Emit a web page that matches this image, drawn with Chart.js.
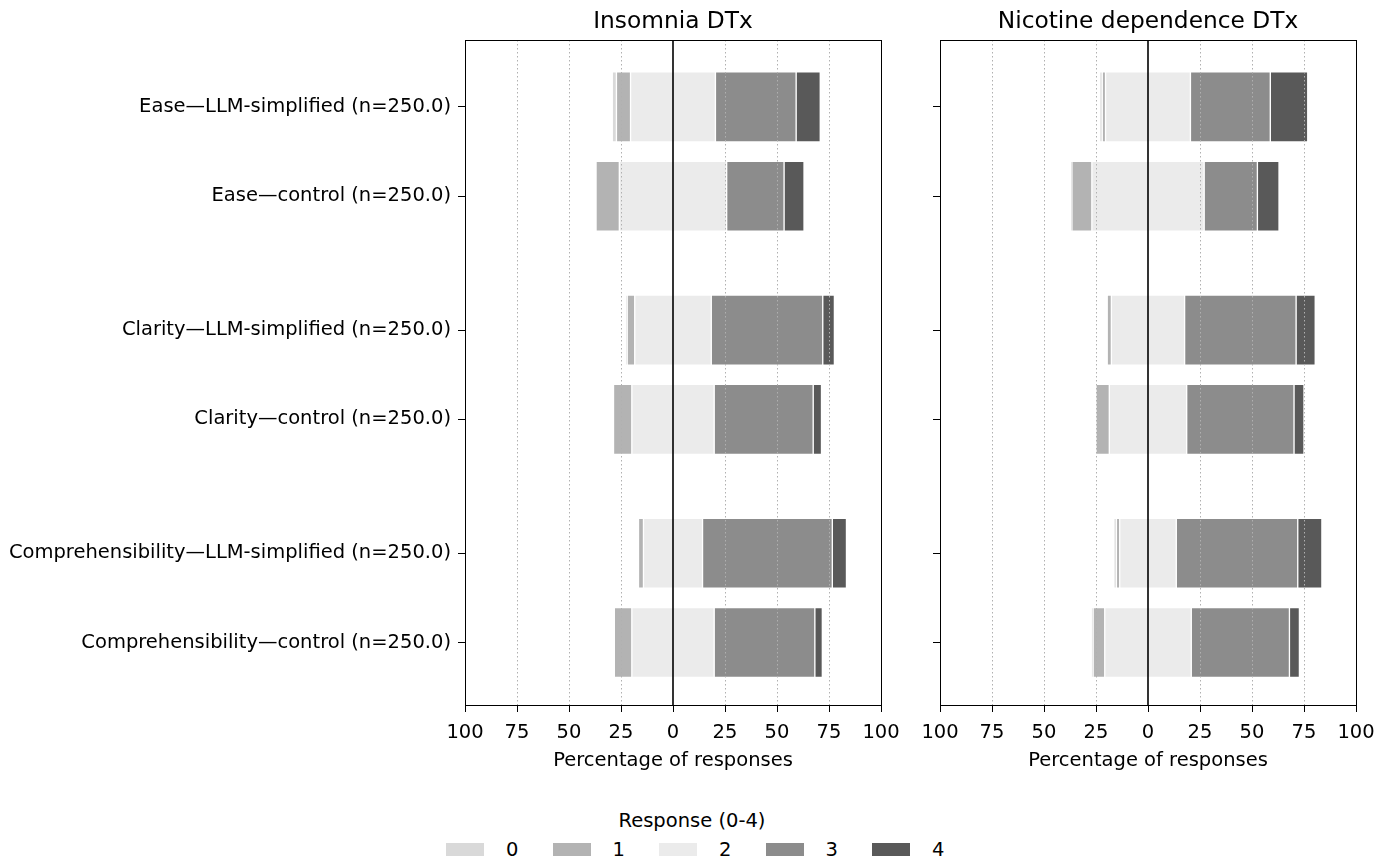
<!DOCTYPE html>
<html>
<head>
<meta charset="utf-8">
<script src="https://cdn.jsdelivr.net/npm/chart.js@4.4.1/dist/chart.umd.min.js"></script>
<style>
  body { margin: 0; background: #fff; font-family: "DejaVu Sans", sans-serif; }
  #wrap { position: relative; width: 1394px; height: 861px; }
  canvas { position: absolute; top: 0; }
  #left { left: 0; }
  #right { left: 900px; }
  #legendTitle { position: absolute; left: 592px; width: 200px; top: 809px; text-align: center; font-size: 19.5px; color: #000; }
  #legend { position: absolute; left: 446px; top: 838px; display: flex; font-size: 19.5px; color: #000; }
  .item { display: flex; align-items: center; width: 106.5px; }
  .box { width: 38px; height: 13px; margin-right: 22px; }
</style>
</head>
<body>
<div id="wrap">
  <canvas id="left" width="920" height="775"></canvas>
  <canvas id="right" width="494" height="775"></canvas>
  <div id="legendTitle">Response (0-4)</div>
  <div id="legend"></div>
</div>
<script>
// rows, top to bottom
const groups = [
  'Ease—LLM-simplified (n=250.0)',
  'Ease—control (n=250.0)',
  'Clarity—LLM-simplified (n=250.0)',
  'Clarity—control (n=250.0)',
  'Comprehensibility—LLM-simplified (n=250.0)',
  'Comprehensibility—control (n=250.0)'
];
const responses = ['0', '1', '2', '3', '4'];
const xTicks = [-100, -75, -50, -25, 0, 25, 50, 75, 100];

// percentage of responses per score, Insomnia DTx
const ins0 = [2.0, 0, 0.4, 0, 0, 0];
const ins1 = [6.8, 11.2, 3.6, 8.8, 2.4, 8.4];
const ins2 = [40.8, 51.6, 36.8, 39.6, 28.4, 39.6];
const ins3 = [38.8, 27.6, 53.6, 47.6, 62.4, 48.4];
const ins4 = [11.6, 9.6, 5.6, 4.0, 6.8, 3.6];

// Nicotine dependence DTx
const nic0 = [1.2, 0.4, 0, 0, 1.2, 0.8];
const nic1 = [1.6, 9.6, 2.0, 6.4, 1.6, 5.6];
const nic2 = [40.8, 54.0, 35.2, 37.2, 27.2, 41.6];
const nic3 = [38.4, 25.6, 53.6, 51.6, 58.4, 47.2];
const nic4 = [18.0, 10.4, 9.2, 4.8, 11.6, 4.8];

const colors = ['#d9d9d9', '#b3b3b3', '#ebebeb', '#8c8c8c', '#595959'];
const rowPos = [0, 1, 2.5, 3.5, 5, 6];  // gap between question pairs

const FONT = 'DejaVu Sans';
const FS = 19.5;

// legend
const leg = document.getElementById('legend');
responses.forEach((r, i) => {
  const it = document.createElement('div');
  it.className = 'item';
  it.innerHTML = '<div class="box" style="background:' + colors[i] + '"></div><span>' + r + '</span>';
  leg.appendChild(it);
});

// diverging layout: 0,1 left of the neutral half, 3,4 right of it
function buildDatasets(series) {
  const [s0, s1, s2, s3, s4] = series;
  const segs = [[], [], [], [], []];
  groups.forEach((g, i) => {
    const half = s2[i] / 2;
    const left = -(s0[i] + s1[i] + half);
    const edges = [left, left + s0[i], -half, half, half + s3[i], half + s3[i] + s4[i]];
    for (let k = 0; k < 5; k++) {
      const a = edges[k], b = edges[k + 1];
      segs[k].push({ x: b - a > 0 ? [a, b] : null, y: rowPos[i] });
    }
  });
  return segs.map((d, k) => ({
    label: responses[k],
    data: d,
    backgroundColor: colors[k],
    borderColor: '#ffffff',
    borderWidth: 1,
    borderSkipped: false,
    barThickness: 70,
    grouped: false
  }));
}

const decor = {
  id: 'decor',
  afterDatasetsDraw(chart, args, opts) {
    const { ctx, chartArea: a, scales: { x } } = chart;
    ctx.save();
    // dotted grid over bars
    ctx.strokeStyle = '#b0b0b0';
    ctx.lineWidth = 1;
    ctx.setLineDash([1.5, 2.5]);
    xTicks.forEach(v => {
      if (v === 0 || Math.abs(v) === 100) return;
      const px = Math.round(x.getPixelForValue(v)) + 0.5;
      ctx.beginPath(); ctx.moveTo(px, a.top); ctx.lineTo(px, a.bottom); ctx.stroke();
    });
    ctx.setLineDash([]);
    // zero line
    ctx.strokeStyle = '#000';
    ctx.lineWidth = 1.6;
    const zx = x.getPixelForValue(0);
    ctx.beginPath(); ctx.moveTo(zx, a.top); ctx.lineTo(zx, a.bottom); ctx.stroke();
    // frame
    ctx.lineWidth = 1;
    ctx.strokeRect(Math.round(a.left) + 0.5, Math.round(a.top) + 0.5, Math.round(a.right - a.left), Math.round(a.bottom - a.top));
    // panel title
    ctx.fillStyle = '#000';
    ctx.font = '23.3px "DejaVu Sans"';
    ctx.textAlign = 'center';
    ctx.textBaseline = 'middle';
    ctx.fillText(opts.title, (a.left + a.right) / 2, 22);
    ctx.restore();
  }
};

function makeChart(id, title, series, showLabels, axisWidth, padRight) {
  return new Chart(document.getElementById(id), {
    type: 'bar',
    data: { datasets: buildDatasets(series) },
    plugins: [decor],
    options: {
      indexAxis: 'y',
      responsive: false,
      animation: false,
      layout: { padding: { top: 40, right: padRight, bottom: 0, left: 0 } },
      plugins: {
        legend: { display: false },
        tooltip: { enabled: false },
        decor: { title: title }
      },
      scales: {
        x: {
          type: 'linear',
          min: -100, max: 100,
          afterBuildTicks: s => { s.ticks = xTicks.map(v => ({ value: v })); },
          afterFit: s => { s.height = 70; },
          border: { display: false },
          grid: { drawOnChartArea: false, drawTicks: true, tickLength: 7, tickColor: '#000', color: '#000' },
          ticks: {
            color: '#000', font: { family: FONT, size: FS }, padding: 9,
            maxRotation: 0, autoSkip: false,
            callback: v => Math.abs(v)
          },
          title: {
            display: true, text: 'Percentage of responses', color: '#000',
            font: { family: FONT, size: FS }, padding: { top: 2, bottom: 2 }
          }
        },
        y: {
          type: 'linear',
          reverse: true,
          offset: false,
          min: -0.75, max: 6.7,
          afterBuildTicks: s => { s.ticks = rowPos.map(v => ({ value: v })); },
          afterFit: s => { s.width = axisWidth; },
          border: { display: false },
          grid: { offset: false, drawOnChartArea: false, drawTicks: true, tickLength: 7, tickColor: '#000', color: '#000' },
          ticks: {
            color: '#000', font: { family: FONT, size: FS }, padding: 7, autoSkip: false,
            callback: v => showLabels ? groups[rowPos.indexOf(v)] : ''
          }
        }
      }
    }
  });
}

makeChart('left', 'Insomnia DTx', [ins0, ins1, ins2, ins3, ins4], true, 465, 39);
makeChart('right', 'Nicotine dependence DTx', [nic0, nic1, nic2, nic3, nic4], false, 40, 38);
</script>
</body>
</html>
